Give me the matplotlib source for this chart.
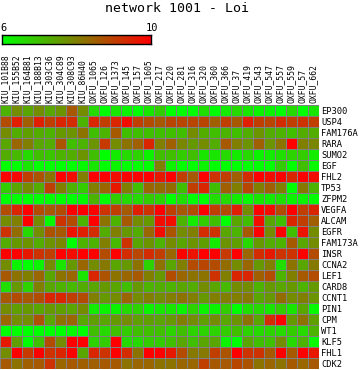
import numpy as np
import matplotlib
matplotlib.use("Agg")
import matplotlib.pyplot as plt
from matplotlib.colors import LinearSegmentedColormap

W, H = 361, 370

samples = [
    "KIU_101B88", "KIU_155B52", "KIU_164B81", "KIU_188B13", "KIU_303C36",
    "KIU_304C89", "KIU_308C93", "KIU_86H40", "OXFU_1065", "OXFU_126",
    "OXFU_1373", "OXFU_145", "OXFU_157", "OXFU_1605", "OXFU_217",
    "OXFU_220", "OXFU_281", "OXFU_316", "OXFU_320", "OXFU_360",
    "OXFU_366", "OXFU_37", "OXFU_419", "OXFU_543", "OXFU_547",
    "OXFU_557", "OXFU_559", "OXFU_57", "OXFU_662",
]

genes = [
    "EP300", "USP4", "FAM176A", "RARA", "SUMO2", "EGF", "FHL2", "TP53",
    "ZFPM2", "VEGFA", "ALCAM", "EGFR", "FAM173A", "INSR", "CCNA2", "LEF1",
    "CARD8", "CCNT1", "PIN1", "CPM", "WT1", "KLF5", "FHL1", "CDK2",
]

# expression values (6 = green ... 10 = red), one row per gene
values = [
    [7.2, 7.8, 7.4, 7.8, 7.4, 7.7, 8.6, 7.8, 6.6, 6.0, 6.4, 6.2, 6.0, 6.4, 6.8, 6.0, 6.0, 6.0, 6.5, 6.0, 6.3, 6.6, 6.4, 6.2, 6.2, 6.0, 6.6, 6.0, 6.4],
    [8.8, 9.5, 8.5, 9.5, 9.0, 9.4, 9.3, 7.2, 9.4, 9.0, 9.4, 9.8, 9.0, 8.8, 8.6, 8.9, 8.9, 8.9, 8.9, 8.5, 9.0, 8.6, 9.5, 9.0, 8.9, 9.3, 9.0, 9.2, 9.0],
    [7.8, 7.3, 7.5, 7.3, 7.2, 7.6, 7.7, 8.2, 7.0, 7.2, 8.6, 7.0, 7.0, 7.0, 7.0, 7.0, 7.0, 7.8, 7.3, 7.0, 7.2, 7.0, 7.3, 7.7, 7.3, 7.2, 7.0, 7.3, 7.3],
    [7.4, 8.4, 8.0, 7.4, 7.3, 8.7, 7.0, 7.2, 7.7, 9.1, 7.8, 8.2, 8.5, 9.4, 8.0, 8.5, 7.9, 7.6, 7.8, 7.3, 8.6, 8.0, 7.7, 8.5, 7.7, 8.2, 10.0, 8.0, 7.9],
    [7.3, 7.1, 6.6, 7.0, 6.9, 7.2, 7.3, 7.7, 7.0, 6.0, 6.3, 6.6, 6.7, 6.2, 7.0, 7.0, 6.8, 7.0, 6.4, 6.4, 6.6, 6.3, 6.6, 6.2, 6.3, 6.5, 6.7, 6.8, 6.3],
    [6.0, 6.0, 6.4, 6.0, 6.0, 6.0, 6.0, 6.1, 6.4, 6.0, 6.2, 6.0, 6.0, 6.0, 8.0, 6.2, 6.0, 6.0, 6.2, 6.0, 6.0, 6.0, 6.0, 6.0, 6.0, 6.8, 6.0, 7.0, 6.1],
    [10.0, 9.9, 9.0, 8.7, 8.2, 10.0, 9.8, 8.0, 10.0, 10.0, 9.8, 10.0, 10.0, 10.0, 9.6, 10.0, 9.0, 8.6, 10.0, 9.2, 9.0, 8.5, 9.3, 10.0, 9.8, 10.0, 9.4, 10.0, 9.8],
    [6.8, 7.4, 7.8, 7.3, 9.0, 8.0, 7.2, 6.8, 8.0, 8.4, 9.6, 8.0, 7.0, 8.4, 8.3, 8.3, 7.0, 9.0, 9.4, 7.0, 8.5, 8.0, 8.9, 8.0, 8.5, 8.0, 6.0, 8.1, 7.2],
    [6.0, 6.0, 6.0, 6.0, 6.0, 6.0, 6.0, 6.1, 7.2, 6.0, 6.8, 6.6, 6.6, 6.8, 6.7, 6.0, 6.5, 6.0, 6.0, 6.5, 6.6, 6.3, 6.1, 6.4, 6.3, 6.5, 6.2, 6.2, 6.0],
    [8.8, 9.4, 10.0, 8.8, 8.6, 8.8, 10.0, 10.0, 10.0, 9.2, 9.0, 8.6, 9.5, 9.2, 10.0, 9.0, 8.6, 8.8, 10.0, 9.0, 8.8, 9.5, 7.8, 10.0, 9.8, 8.8, 10.0, 9.0, 9.4],
    [7.8, 8.0, 10.0, 7.8, 6.1, 9.2, 8.8, 7.2, 10.0, 8.2, 7.2, 8.6, 7.8, 7.6, 9.8, 9.8, 7.2, 6.3, 6.8, 7.0, 6.0, 7.4, 7.0, 9.8, 7.4, 7.0, 9.4, 9.0, 8.5],
    [9.2, 8.3, 6.6, 7.8, 8.7, 8.6, 9.7, 9.5, 9.3, 7.3, 8.0, 7.6, 7.3, 8.4, 9.8, 8.7, 7.8, 8.0, 9.3, 9.2, 7.4, 7.2, 8.6, 10.0, 7.8, 10.0, 7.0, 9.7, 7.8],
    [7.3, 7.6, 7.7, 7.3, 7.7, 7.9, 6.0, 7.2, 7.2, 8.0, 7.1, 9.2, 7.4, 7.7, 7.2, 7.8, 7.4, 7.7, 7.5, 6.3, 7.7, 7.5, 6.6, 7.6, 7.3, 7.2, 8.6, 7.4, 7.8],
    [10.0, 10.0, 9.6, 9.2, 9.0, 10.0, 9.8, 10.0, 10.0, 8.8, 10.0, 9.3, 8.9, 9.3, 9.0, 8.4, 10.0, 9.7, 10.0, 10.0, 9.1, 10.0, 8.4, 9.3, 9.6, 9.2, 9.2, 10.0, 8.8],
    [7.8, 6.2, 6.0, 6.2, 7.8, 6.4, 7.6, 8.4, 7.8, 8.1, 7.4, 7.6, 8.2, 6.7, 8.2, 7.4, 8.0, 8.8, 8.9, 8.8, 8.3, 7.8, 8.4, 7.6, 8.0, 6.5, 8.2, 7.4, 8.1],
    [8.6, 8.2, 8.0, 8.4, 7.4, 8.2, 8.4, 6.4, 9.4, 8.7, 8.2, 8.4, 8.6, 8.0, 7.6, 8.8, 8.4, 8.2, 8.2, 9.2, 8.0, 9.4, 9.4, 8.5, 8.8, 7.2, 8.0, 8.6, 8.8],
    [6.5, 7.6, 6.7, 8.0, 7.4, 7.2, 7.1, 7.3, 7.4, 7.6, 7.4, 7.0, 7.6, 7.2, 7.3, 7.2, 7.4, 7.3, 7.8, 7.4, 7.1, 7.8, 7.8, 7.2, 7.6, 7.4, 7.6, 7.2, 7.6],
    [8.6, 8.8, 8.6, 8.8, 9.4, 9.4, 9.0, 8.8, 8.0, 7.6, 7.8, 8.4, 7.8, 8.0, 7.8, 8.0, 8.2, 8.0, 7.6, 8.0, 8.0, 8.0, 8.1, 7.4, 7.6, 8.3, 7.8, 8.0, 7.7],
    [7.8, 7.5, 7.6, 7.4, 7.6, 7.5, 7.4, 7.8, 6.3, 6.2, 6.2, 6.6, 6.7, 6.2, 6.4, 6.4, 6.2, 6.7, 6.2, 6.2, 6.8, 6.0, 6.5, 6.6, 6.4, 6.8, 6.4, 7.4, 6.1],
    [8.4, 7.8, 7.8, 8.7, 7.4, 8.2, 8.4, 7.4, 7.5, 7.4, 7.6, 7.8, 7.5, 7.5, 7.4, 7.6, 8.0, 7.8, 7.5, 7.8, 7.4, 7.7, 8.2, 7.4, 9.3, 10.0, 7.6, 8.2, 7.5],
    [6.0, 6.0, 6.0, 6.0, 6.0, 6.0, 6.1, 6.0, 7.0, 6.6, 7.0, 6.8, 7.0, 7.0, 7.0, 6.7, 7.0, 6.7, 6.7, 6.7, 6.8, 7.0, 6.7, 6.6, 6.7, 6.6, 6.8, 6.6, 7.2],
    [9.6, 7.5, 6.0, 7.0, 8.8, 7.8, 10.0, 10.0, 6.7, 6.8, 10.0, 6.6, 6.6, 6.8, 6.8, 7.0, 7.4, 7.0, 7.4, 7.4, 6.2, 6.0, 7.4, 7.0, 7.0, 7.8, 6.6, 7.2, 6.1],
    [7.8, 10.0, 9.1, 10.0, 9.2, 9.4, 10.0, 7.4, 9.4, 9.2, 10.0, 9.3, 8.2, 10.0, 10.0, 9.6, 8.8, 8.1, 8.1, 9.0, 8.7, 10.0, 9.2, 9.2, 8.6, 10.0, 8.6, 10.0, 9.6],
    [8.6, 8.2, 8.5, 8.6, 9.2, 8.4, 8.6, 8.5, 8.5, 8.6, 8.6, 8.2, 8.4, 8.4, 8.2, 8.2, 8.4, 8.4, 9.0, 8.6, 8.6, 8.9, 8.7, 8.2, 8.4, 8.2, 8.6, 8.4, 8.6],
]

vmin, vmax = 6, 10

plt.rcParams["font.family"] = "DejaVu Sans Mono"
cmap = LinearSegmentedColormap.from_list("gr", ["#00ff00", "#ff0000"])

fig = plt.figure(figsize=(W / 100, H / 100), dpi=100)

# heatmap
ax = fig.add_axes([0 / W, 1 / H, 319 / W, 264 / H])
data = np.array(values)
ax.pcolormesh(data, cmap=cmap, vmin=vmin, vmax=vmax,
              edgecolors="#808080", linewidth=0.55)
ax.set_xlim(0, len(samples))
ax.set_ylim(len(genes), 0)
for s in ax.spines.values():
    s.set_visible(False)
ax.xaxis.tick_top()
ax.set_xticks(np.arange(len(samples)) + 0.5)
ax.set_xticklabels(samples, rotation=90, fontsize=5.8)
ax.yaxis.tick_right()
ax.set_yticks(np.arange(len(genes)) + 0.5)
ax.set_yticklabels(genes, fontsize=6.3)
ax.tick_params(length=0, pad=1.5)

# colour scale
cax = fig.add_axes([2 / W, (H - 44) / H, 149 / W, 9 / H])
cax.imshow(np.linspace(0, 1, 256)[None, :], aspect="auto", cmap=cmap)
cax.set_xticks([])
cax.set_yticks([])
for s in cax.spines.values():
    s.set_linewidth(1)
fig.text(0 / W, 1 - 33 / H, "6", fontsize=7.5, va="bottom", ha="left")
fig.text(158 / W, 1 - 33 / H, "10", fontsize=7.5, va="bottom", ha="right")

fig.text(177 / W, 1 - 8 / H, "network 1001 - Loi", fontsize=9.5,
         ha="center", va="center")

fig.savefig("out.png", dpi=100)
